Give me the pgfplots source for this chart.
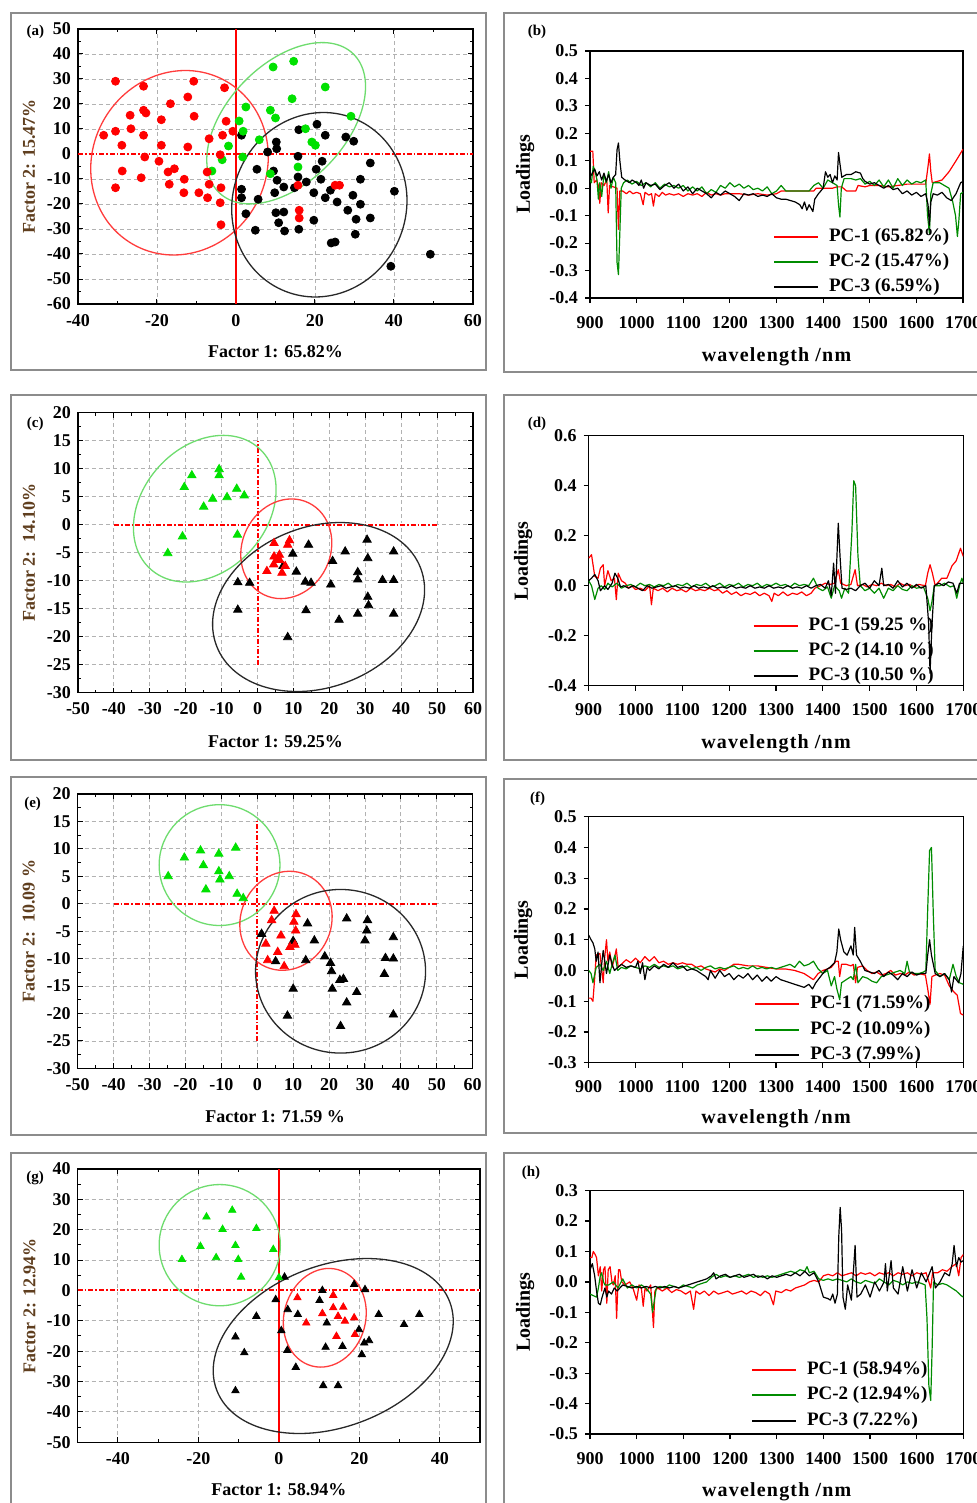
\documentclass[border=0pt]{standalone}
\usepackage{fontspec}
\setmainfont{Liberation Serif}
\newfontfamily\wavefont[LetterSpace=6.0]{Liberation Serif}
\usepackage{pgfplots}
\pgfplotsset{compat=1.18}
\definecolor{framegray}{gray}{0.55}
\definecolor{labbrown}{RGB}{95,62,30}
\definecolor{sgreen}{RGB}{0,225,0}
\definecolor{egreen}{RGB}{110,220,110}
\definecolor{ered}{RGB}{255,60,60}
\definecolor{eblack}{RGB}{40,40,40}
\definecolor{lgreen}{RGB}{0,140,0}
\newcommand{\tf}{\fontsize{9}{10}\selectfont\bfseries}
\newcommand{\lf}{\fontsize{9}{10}\selectfont\bfseries}
\pgfplotsset{
 scat/.style={scale only axis, anchor=south west,
   axis line style={line width=0.7pt},
   tick align=inside, major tick length=2.5pt, minor tick length=1.5pt,
   minor tick num=1, tick style={line width=0.5pt, black},
   grid=major, major grid style={gray!60, line width=0.45pt, dash pattern=on 2pt off 1.5pt},
   ticklabel style={font=\tf},
   xticklabel style={yshift=-1.5pt},
   xlabel style={font=\lf},
   ylabel style={font=\lf, color=labbrown},
   clip=true},
 refl/.style={red, line width=1pt, dash pattern=on 2.5pt off 1pt on 0.8pt off 1pt},
 wht/.style={white, line width=1.4pt},
 load/.style={scale only axis, anchor=south west,
   xmin=900, xmax=1700, xtick={900,1000,...,1700},
   xticklabels={900,1000,1100,1200,1300,1400,1500,1600,1700},
   axis line style={line width=0.7pt},
   tick align=outside, tick pos=left, major tick length=2.5pt,
   tick style={line width=0.6pt, black},
   ticklabel style={font=\tf},
   xticklabel style={yshift=-3pt},
   xlabel={\wavefont\fontsize{10}{11}\selectfont\bfseries wavelength /nm},
   ylabel={\fontsize{10}{11}\selectfont\bfseries Loadings},
   legend image code/.code={\draw[##1, line width=1pt] (0pt,0pt) -- (22pt,0pt);},
   legend style={draw=none, fill=none, inner sep=0pt, outer sep=0pt, anchor=west,
     font=\fontsize{9.5}{10}\selectfont\bfseries, row sep=2.2pt,
     nodes={inner sep=0.5pt, text height=7pt, text depth=2.5pt},
     /tikz/every odd column/.append style={column sep=4.5pt}},
   legend cell align=left,
   every axis plot/.append style={line width=0.6pt, line join=round}},
 sm/.style={only marks, mark=*, mark size=2pt},
 tm/.style={only marks, mark=triangle*, mark size=2.4pt},
}
\begin{document}
\begin{tikzpicture}
\path[use as bounding box, clip] (0pt,0pt) rectangle (488.5pt,-751.5pt);
\fill[white] (0pt,0pt) rectangle (488.5pt,-751.5pt);
% frames
\draw[framegray, line width=1.3pt] (5.5pt,-6.5pt) rectangle (243pt,-185pt);
\draw[framegray, line width=1.3pt] (252pt,-6.5pt) rectangle (500pt,-186pt);
\draw[framegray, line width=1.3pt] (5.5pt,-197.5pt) rectangle (243pt,-380pt);
\draw[framegray, line width=1.3pt] (252pt,-197.5pt) rectangle (500pt,-380pt);
\draw[framegray, line width=1.3pt] (5.5pt,-388.5pt) rectangle (243pt,-567.5pt);
\draw[framegray, line width=1.3pt] (252pt,-389.5pt) rectangle (500pt,-566.5pt);
\draw[framegray, line width=1.3pt] (5.5pt,-576.5pt) rectangle (243pt,-770pt);
\draw[framegray, line width=1.3pt] (252pt,-576.5pt) rectangle (500pt,-770pt);
% panel labels
\node[font=\fontsize{7.5}{8}\selectfont\bfseries] at (17.65pt,-16pt) {(a)};
\node[font=\fontsize{7.5}{8}\selectfont\bfseries] at (268.5pt,-15.8pt) {(b)};
\node[font=\fontsize{7.5}{8}\selectfont\bfseries] at (17.65pt,-211.7pt) {(c)};
\node[font=\fontsize{7.5}{8}\selectfont\bfseries] at (268.5pt,-211.7pt) {(d)};
\node[font=\fontsize{7.5}{8}\selectfont\bfseries] at (16.3pt,-402pt) {(e)};
\node[font=\fontsize{7.5}{8}\selectfont\bfseries] at (268.8pt,-399.2pt) {(f)};
\node[font=\fontsize{7.5}{8}\selectfont\bfseries] at (17.6pt,-589.2pt) {(g)};
\node[font=\fontsize{7.5}{8}\selectfont\bfseries] at (265.5pt,-586.3pt) {(h)};

% ---------------- (a)
\begin{axis}[scat, at={(39pt,-152pt)}, width=197.5pt, height=137.5pt,
 xmin=-40, xmax=60, ymin=-60, ymax=50,
 xtick={-40,-20,0,20,40,60}, xticklabels={-40,-20,0,20,40,60},
 ytick={-60,-50,...,50}, yticklabels={-60,-50,-40,-30,-20,-10,0,10,20,30,40,50},
 xlabel={Factor 1: 65.82\%}, ylabel={Factor 2: 15.47\%},
 xlabel style={at={(axis description cs:0.5,-0.1745)},anchor=center},
 ylabel style={at={(axis description cs:-0.124,0.5)},anchor=center}]
\addplot[wht] coordinates {(-40,0) (60,0)};
\addplot[refl] coordinates {(-40,0) (60,0)};
\addplot[red, line width=0.8pt] coordinates {(0,-60) (0,50)};
\addplot[sm, black] coordinates {(1.4,7.5) (15.9,9.7) (20.5,11.9) (22.6,7.5) (27.8,6.8) (29.8,5.1) (10.2,4.8) (10.3,2.1) (8.0,0.8) (15.7,-0.9) (21.8,-2.9) (34.0,-3.6) (5.3,-6.1) (9.5,-6.8) (20.3,-6.1) (15.7,-9.2) (10.4,-10.5) (12.1,-13.2) (14.8,-13.5) (17.8,-11.2) (21.5,-10.1) (31.5,-10.1) (1.4,-14.1) (1.4,-17.5) (9.8,-15.5) (19.7,-15.5) (23.9,-14.5) (22.6,-17.5) (25.6,-19.2) (29.6,-16.5) (31.5,-20.1) (40.1,-14.9) (5.6,-18.1) (2.5,-23.9) (10.1,-23.5) (12.1,-23.2) (10.8,-27.5) (19.7,-26.5) (28.3,-22.5) (30.4,-26.1) (34.0,-25.6) (4.9,-30.5) (12.3,-30.8) (15.9,-30.1) (30.2,-32.1) (24.1,-35.6) (25.1,-35.2) (49.2,-40.1) (39.2,-44.9)};
\addplot[sm, sgreen] coordinates {(9.4,34.8) (14.6,37.1) (22.6,26.8) (14.2,22.1) (2.5,18.8) (8.7,17.5) (10.0,14.4) (0.8,13.2) (1.8,9.1) (17.6,10.1) (5.9,5.7) (-1.9,3.2) (19.2,4.8) (20.1,3.5) (-3.5,-2.3) (1.7,-1.2) (-6.1,-6.8) (15.7,-5.2) (29.1,15.1) (8.7,-7.9)};
\addplot[sm, red] coordinates {(-30.5,29.1) (-23.4,27.1) (-10.7,29.1) (-2.9,26.5) (-12.2,22.8) (-16.6,20.1) (-26.8,15.5) (-23.4,17.5) (-22.8,16.4) (-10.6,15.1) (-18.9,13.7) (-33.5,7.5) (-30.5,9.1) (-26.6,10.1) (-23.4,7.5) (-28.9,3.5) (-18.9,3.5) (-12.2,2.8) (-2.5,13.1) (-0.8,9.1) (-3.4,7.5) (-6.8,6.1) (-23.1,-1.2) (-19.5,-2.9) (-4.0,-0.3) (-28.8,-6.8) (-30.5,-13.5) (-24.0,-9.5) (-17.2,-7.2) (-15.6,-5.9) (-16.9,-12.1) (-13.1,-10.1) (-7.3,-7.2) (-6.8,-12.1) (-13.2,-15.5) (-9.4,-15.5) (-7.2,-17.5) (-4.0,-19.5) (-3.8,-28.3) (15.7,-12.5) (16.0,-22.5) (16.0,-25.6) (25.1,-12.5) (26.2,-12.5) (-3.8,-13.5)};
\draw[ered, line width=0.65pt, rotate around={60:(axis cs:-14.3,-3.5)}] (axis cs:-14.3,-3.5) ellipse [x radius=46.95pt, y radius=43.5pt];
\draw[egreen, line width=0.65pt, rotate around={46:(axis cs:12.7,12.3)}] (axis cs:12.7,12.3) ellipse [x radius=48.25pt, y radius=29.55pt];
\draw[eblack, line width=0.65pt, rotate around={68.8:(axis cs:21.1,-20.3)}] (axis cs:21.1,-20.3) ellipse [x radius=46.5pt, y radius=43.4pt];
\end{axis}

% ---------------- (c)
\begin{axis}[scat, at={(39pt,-346.35pt)}, width=197.5pt, height=140pt,
 xmin=-50, xmax=60, ymin=-30, ymax=20,
 xtick={-50,-40,...,60}, xticklabels={-50,-40,-30,-20,-10,0,10,20,30,40,50,60},
 ytick={-30,-25,...,20}, yticklabels={-30,-25,-20,-15,-10,-5,0,5,10,15,20},
 xlabel={Factor 1: 59.25\%}, ylabel={Factor 2:\ \ 14.10\%},
 xlabel style={at={(axis description cs:0.5,-0.175)},anchor=center},
 ylabel style={at={(axis description cs:-0.124,0.5)},anchor=center}]
\addplot[wht] coordinates {(-40,0) (50,0)};
\addplot[wht] coordinates {(0,-25) (0,15)};
\addplot[refl] coordinates {(-40,0) (50,0)};
\addplot[refl] coordinates {(0,-25) (0,15)};
\addplot[tm, black] coordinates {(7.1,-7.4) (9.8,-5.2) (14.2,-3.6) (10.8,-8.4) (13.3,-10.2) (14.9,-10.4) (-5.5,-10.3) (-2.2,-10.4) (-5.5,-15.2) (13.5,-15.3) (8.4,-20.1) (20.9,-6.5) (20.4,-10.7) (24.4,-4.8) (30.5,-2.7) (30.7,-6.0) (27.9,-8.5) (27.9,-9.8) (34.8,-9.9) (37.9,-4.8) (37.9,-9.9) (30.7,-12.9) (30.9,-14.4) (27.9,-15.9) (22.7,-17.0) (37.9,-15.9)};
\addplot[tm, sgreen] coordinates {(-10.7,9.9) (-10.7,8.8) (-18.3,8.8) (-20.4,6.7) (-5.8,6.4) (-3.7,5.2) (-8.5,4.9) (-12.5,4.6) (-15.0,3.2) (-20.9,-2.1) (-5.6,-1.8) (-25.0,-5.1)};
\addplot[tm, red] coordinates {(4.6,-3.3) (8.9,-2.8) (8.4,-3.6) (6.1,-5.4) (4.6,-5.7) (5.6,-6.1) (4.5,-7.1) (7.7,-7.4) (2.6,-8.3) (6.8,-8.6) (6.1,-6.3)};
\draw[egreen, line width=0.65pt, rotate around={48:(axis cs:-14.7,2.86)}] (axis cs:-14.7,2.86) ellipse [x radius=40.6pt, y radius=31.1pt];
\draw[ered, line width=0.65pt, rotate around={64:(axis cs:8.0,-4.3)}] (axis cs:8.0,-4.3) ellipse [x radius=25.55pt, y radius=22.05pt];
\draw[eblack, line width=0.65pt, rotate around={20.8:(axis cs:17.0,-14.7)}] (axis cs:17.0,-14.7) ellipse [x radius=54.6pt, y radius=40.15pt];
\end{axis}

% ---------------- (e)
\begin{axis}[scat, at={(38.85pt,-534.2pt)}, width=197.5pt, height=137.2pt,
 xmin=-50, xmax=60, ymin=-30, ymax=20,
 xtick={-50,-40,...,60}, xticklabels={-50,-40,-30,-20,-10,0,10,20,30,40,50,60},
 ytick={-30,-25,...,20}, yticklabels={-30,-25,-20,-15,-10,-5,0,5,10,15,20},
 xlabel={Factor 1: 71.59 \%}, ylabel={Factor 2:\ \ 10.09 \%},
 xlabel style={at={(axis description cs:0.5,-0.174)},anchor=center},
 ylabel style={at={(axis description cs:-0.124,0.5)},anchor=center}]
\addplot[wht] coordinates {(-40,0) (50,0)};
\addplot[wht] coordinates {(0,-25) (0,15)};
\addplot[refl] coordinates {(-40,0) (50,0)};
\addplot[refl] coordinates {(0,-25) (0,15)};
\addplot[tm, black] coordinates {(1.2,-5.5) (14.0,-3.6) (10.0,-6.8) (15.9,-6.7) (5.1,-10.5) (13.5,-10.3) (18.8,-9.6) (20.4,-10.8) (20.7,-12.3) (23.0,-13.9) (24.0,-13.7) (20.9,-15.5) (10.0,-15.5) (27.7,-16.1) (24.9,-18.0) (8.4,-20.4) (23.2,-22.3) (24.9,-2.7) (30.7,-3.0) (30.5,-4.9) (30.0,-6.7) (37.9,-6.1) (35.7,-9.9) (37.9,-10.0) (35.4,-12.8) (37.9,-20.2)};
\addplot[tm, sgreen] coordinates {(-6.0,10.2) (-15.8,9.7) (-10.7,9.1) (-20.3,8.4) (-15.0,7.0) (-10.7,5.9) (-10.4,4.4) (-7.8,5.0) (-24.8,5.0) (-14.3,2.6) (-5.6,1.8) (-3.9,1.0)};
\addplot[tm, red] coordinates {(4.7,-1.3) (10.8,-1.9) (4.0,-3.0) (10.2,-3.3) (10.7,-4.9) (6.6,-5.8) (2.4,-7.3) (10.5,-7.5) (9.1,-7.9) (5.7,-8.8) (2.9,-10.3) (7.5,-11.4)};
\draw[egreen, line width=0.65pt] (axis cs:-10.5,7.05) ellipse [x radius=30.2pt, y radius=30.2pt];
\draw[ered, line width=0.65pt, rotate around={66:(axis cs:8.0,-3.1)}] (axis cs:8.0,-3.1) ellipse [x radius=25.15pt, y radius=22.65pt];
\draw[eblack, line width=0.65pt] (axis cs:23.2,-12.3) ellipse [x radius=42.5pt, y radius=40.9pt];
\end{axis}

% ---------------- (g)
\begin{axis}[scat, at={(38.85pt,-721.15pt)}, width=201.2pt, height=136.7pt,
 xmin=-50, xmax=50, ymin=-50, ymax=40,
 xtick={-40,-20,0,20,40}, xticklabels={-40,-20,0,20,40},
 ytick={-50,-40,...,40}, yticklabels={-50,-40,-30,-20,-10,0,10,20,30,40},
 tm/.style={only marks, mark=triangle*, mark size=2.1pt},
 xlabel={Factor 1: 58.94\%}, ylabel={Factor 2: 12.94\%},
 xlabel style={at={(axis description cs:0.5,-0.172)},anchor=center},
 ylabel style={at={(axis description cs:-0.120,0.5)},anchor=center}]
\addplot[wht] coordinates {(-50,0) (50,0)};
\addplot[refl] coordinates {(-50,0) (50,0)};
\addplot[red, line width=0.8pt] coordinates {(0,-50) (0,40)};
\addplot[tm, black] coordinates {(1.4,4.4) (10.8,0) (10.1,-3.3) (18.7,2.0) (21.4,0.3) (-0.8,-3.0) (2.2,-6.3) (4.7,-7.9) (11.9,-10.7) (-5.6,-8.5) (24.8,-7.9) (34.9,-7.9) (31.1,-11.2) (0.6,-13.2) (-10.8,-15.3) (19.9,-12.9) (21.2,-17.3) (22.4,-16.5) (20.6,-21.1) (-8.6,-20.5) (2.1,-19.7) (11.6,-18.7) (15.8,-18.4) (4.2,-25.3) (-10.8,-33.0) (11.0,-31.3) (14.7,-31.3)};
\addplot[tm, sgreen] coordinates {(-11.6,26.4) (-18.0,24.2) (-14.0,20.1) (-5.6,20.4) (-19.5,14.5) (-10.8,14.8) (-1.4,13.5) (-24.1,10.2) (-15.6,10.8) (-10.1,10.2) (-9.4,4.4) (0,4.2)};
\addplot[tm, red] coordinates {(4.6,-2.4) (13.5,-1.6) (13.5,-5.7) (16.0,-5.5) (10.8,-7.6) (14.7,-8.5) (16.4,-10.1) (18.7,-9.0) (6.8,-10.7) (14.3,-15.1) (18.9,-14.5)};
\draw[egreen, line width=0.65pt] (axis cs:-14.7,14.9) ellipse [x radius=30.3pt, y radius=30.3pt];
\draw[ered, line width=0.65pt, rotate around={74.9:(axis cs:11.4,-9.0)}] (axis cs:11.4,-9.0) ellipse [x radius=24.95pt, y radius=20.4pt];
\draw[eblack, line width=0.65pt, rotate around={20.7:(axis cs:13.5,-18.3)}] (axis cs:13.5,-18.3) ellipse [x radius=62.3pt, y radius=40.4pt];
\end{axis}

% ---------------- (b)
\begin{axis}[load, at={(295pt,-149pt)}, width=186.5pt, height=123.5pt,
 ymin=-0.4, ymax=0.5, ytick={-0.4,-0.3,...,0.5},
 yticklabels={-0.4,-0.3,-0.2,-0.1,0.0,0.1,0.2,0.3,0.4,0.5},
 xlabel style={at={(axis description cs:0.5,-0.239)},anchor=center},
 ylabel style={at={(axis description cs:-0.174,0.5)},anchor=center},
 legend style={at={(0.4906,0.146)}}]
\addplot[red] coordinates {(900,0.135) (906,0.135) (909,0.02) (914,0.03) (918,0.01) (921,-0.055) (924,0.02) (930,0.01) (936,0.03) (939,-0.09) (942,0.01) (950,0.005) (958,0.0) (961,-0.15) (964,-0.01) (970,-0.01) (978,-0.02) (985,-0.01) (992,-0.02) (1000,-0.015) (1008,-0.02) (1014,-0.06) (1018,-0.015) (1026,-0.025) (1032,-0.02) (1036,-0.065) (1040,-0.02) (1048,-0.03) (1055,-0.015) (1062,-0.025) (1070,-0.02) (1080,-0.025) (1090,-0.02) (1100,-0.03) (1110,-0.02) (1120,-0.025) (1130,-0.02) (1140,-0.03) (1150,-0.015) (1160,-0.025) (1170,-0.02) (1180,-0.025) (1190,-0.02) (1200,-0.02) (1220,-0.02) (1240,-0.025) (1260,-0.02) (1280,-0.025) (1300,-0.02) (1310,-0.01) (1330,-0.01) (1360,-0.01) (1380,-0.01) (1385,0.0) (1400,0.0) (1420,0.0) (1430,0.005) (1440,0.005) (1450,-0.01) (1470,-0.01) (1475,0.01) (1490,0.005) (1500,0.01) (1520,0.01) (1540,0.005) (1560,0.01) (1580,0.015) (1600,0.015) (1620,0.015) (1625,0.08) (1628,0.125) (1631,0.06) (1634,0.02) (1645,0.025) (1655,0.03) (1670,0.06) (1685,0.1) (1700,0.142)};
\addlegendentry{PC-1 (65.82\%)}
\addplot[lgreen] coordinates {(900,0.03) (903,0.02) (907,0.08) (911,0.06) (915,0.03) (918,-0.04) (921,0.02) (925,-0.03) (930,0.05) (935,0.02) (940,0.06) (945,0.0) (950,0.04) (955,0.02) (958,-0.27) (961,-0.315) (964,-0.16) (967,0.0) (972,0.02) (980,0.03) (990,0.015) (1000,0.025) (1010,0.01) (1020,0.02) (1030,0.005) (1040,0.02) (1050,0.0) (1060,0.015) (1070,0.005) (1080,0.01) (1090,0.0) (1100,0.01) (1110,-0.01) (1120,0.005) (1130,-0.01) (1140,0.005) (1150,-0.02) (1160,-0.005) (1170,-0.015) (1180,0.01) (1190,0.0) (1200,0.02) (1210,0.005) (1220,0.015) (1230,0.0) (1240,0.01) (1250,-0.005) (1260,0.0) (1270,-0.01) (1280,0.005) (1290,-0.02) (1300,-0.01) (1310,0.01) (1320,-0.01) (1340,-0.01) (1360,-0.01) (1370,-0.01) (1380,0.01) (1390,0.02) (1400,0.0) (1410,0.03) (1420,0.02) (1430,0.01) (1433,-0.06) (1436,-0.105) (1439,0.0) (1445,0.035) (1460,0.035) (1470,0.03) (1480,0.035) (1490,0.015) (1500,0.025) (1510,0.01) (1520,0.03) (1530,0.005) (1540,0.03) (1550,0.0) (1560,0.035) (1570,0.01) (1580,0.03) (1590,0.015) (1600,0.025) (1610,0.02) (1620,0.03) (1624,-0.1) (1628,-0.165) (1631,-0.02) (1636,0.02) (1650,0.02) (1660,0.01) (1670,0.0) (1678,-0.05) (1684,-0.1) (1688,-0.176) (1691,-0.12) (1695,-0.02) (1700,-0.015)};
\addlegendentry{PC-2 (15.47\%)}
\addplot[black] coordinates {(900,0.04) (905,0.055) (910,0.07) (915,0.045) (920,0.06) (925,0.03) (930,0.055) (935,0.025) (940,0.05) (945,0.02) (950,0.04) (955,0.05) (958,0.14) (961,0.165) (964,0.1) (968,0.04) (975,0.03) (985,0.02) (990,0.03) (1000,0.02) (1005,0.01) (1010,0.03) (1015,0.0) (1020,0.02) (1030,0.01) (1040,0.015) (1050,-0.005) (1060,0.01) (1070,0.02) (1080,0.0) (1090,0.015) (1100,-0.01) (1110,0.005) (1120,-0.02) (1130,0.0) (1140,-0.01) (1150,-0.02) (1160,-0.035) (1170,-0.015) (1180,-0.025) (1190,-0.01) (1200,-0.02) (1210,-0.03) (1220,-0.045) (1230,-0.02) (1240,-0.025) (1250,-0.02) (1260,-0.03) (1270,-0.025) (1280,-0.03) (1290,-0.02) (1300,-0.035) (1310,-0.04) (1320,-0.04) (1330,-0.045) (1340,-0.05) (1350,-0.06) (1355,-0.075) (1360,-0.05) (1365,-0.08) (1370,-0.06) (1378,-0.085) (1382,-0.04) (1390,-0.02) (1400,0.0) (1405,0.06) (1410,0.04) (1415,0.05) (1420,0.02) (1425,0.045) (1430,0.03) (1433,0.13) (1436,0.09) (1440,0.04) (1450,0.05) (1460,0.05) (1470,0.06) (1480,0.055) (1485,0.035) (1490,0.025) (1500,0.015) (1510,0.02) (1520,0.01) (1530,0.0) (1540,0.01) (1550,-0.005) (1560,0.0) (1570,-0.02) (1580,-0.01) (1590,-0.025) (1600,-0.015) (1610,-0.03) (1620,-0.02) (1625,-0.06) (1628,-0.135) (1631,-0.05) (1636,-0.02) (1645,-0.025) (1655,-0.015) (1665,-0.035) (1675,-0.045) (1685,-0.02) (1695,0.02) (1700,0.025)};
\addlegendentry{PC-3 (6.59\%)}
\end{axis}

% ---------------- (d)
\begin{axis}[load, at={(294.35pt,-342.85pt)}, width=187.3pt, height=125pt,
 ymin=-0.4, ymax=0.6, ytick={-0.4,-0.2,...,0.6},
 yticklabels={-0.4,-0.2,0.0,0.2,0.4,0.6},
 xlabel style={at={(axis description cs:0.5,-0.233)},anchor=center},
 ylabel style={at={(axis description cs:-0.175,0.5)},anchor=center},
 legend style={at={(0.4378,0.139)}}]
\addplot[red] coordinates {(900,0.11) (906,0.124) (913,0.037) (920,0.03) (925,0.07) (931,0.084) (934,0.0) (941,0.06) (948,0.02) (955,0.03) (959,-0.056) (963,0.05) (970,0.02) (978,0.01) (985,-0.01) (992,0.0) (1000,-0.015) (1010,-0.01) (1020,-0.02) (1030,0.0) (1034,-0.076) (1038,-0.01) (1048,-0.02) (1058,-0.01) (1068,-0.025) (1078,-0.01) (1088,-0.02) (1098,-0.015) (1108,-0.025) (1118,-0.01) (1128,-0.02) (1138,-0.015) (1148,-0.02) (1158,-0.01) (1168,-0.02) (1177,-0.015) (1186,-0.03) (1195,-0.02) (1205,-0.035) (1215,-0.025) (1225,-0.04) (1235,-0.03) (1245,-0.035) (1255,-0.025) (1265,-0.04) (1275,-0.03) (1285,-0.04) (1291,-0.063) (1296,-0.03) (1305,-0.04) (1315,-0.025) (1325,-0.04) (1335,-0.03) (1345,-0.035) (1355,-0.025) (1365,-0.04) (1375,-0.03) (1383,-0.01) (1395,0.0) (1405,0.01) (1415,0.005) (1425,0.01) (1433,0.064) (1438,0.01) (1450,0.0) (1460,0.005) (1469,0.064) (1474,0.0) (1485,0.005) (1495,-0.005) (1505,0.005) (1515,0.0) (1525,0.01) (1535,0.0) (1545,0.005) (1555,-0.005) (1565,0.01) (1575,0.0) (1585,0.005) (1595,-0.005) (1605,0.005) (1619,0.0) (1624,0.05) (1629,0.084) (1634,0.05) (1640,0.0) (1654,0.03) (1665,0.03) (1676,0.08) (1685,0.1) (1694,0.15) (1700,0.117)};
\addlegendentry{PC-1 (59.25 \%)}
\addplot[lgreen] coordinates {(900,0.02) (906,0.0) (913,-0.055) (920,-0.01) (927,0.0) (934,-0.015) (941,0.01) (950,-0.005) (960,0.01) (970,-0.01) (980,0.0) (990,0.005) (1000,-0.005) (1010,0.01) (1020,0.0) (1030,0.005) (1040,-0.005) (1050,0.005) (1060,0.0) (1070,0.01) (1080,-0.005) (1090,0.005) (1100,0.0) (1110,0.01) (1120,-0.005) (1130,0.005) (1140,0.0) (1150,0.01) (1160,-0.005) (1170,0.0) (1180,0.01) (1190,-0.005) (1200,0.005) (1210,0.0) (1220,0.01) (1230,-0.005) (1240,0.005) (1250,0.0) (1260,0.01) (1270,-0.005) (1280,0.005) (1290,0.0) (1300,0.01) (1310,0.0) (1320,0.005) (1330,-0.005) (1340,0.01) (1350,0.0) (1360,0.005) (1370,0.0) (1380,0.03) (1390,-0.01) (1400,-0.02) (1410,-0.005) (1418,-0.05) (1425,0.0) (1435,-0.02) (1440,-0.05) (1447,-0.01) (1455,-0.03) (1462,0.21) (1466,0.42) (1470,0.40) (1475,0.12) (1480,0.0) (1490,-0.02) (1500,-0.01) (1510,-0.03) (1520,-0.01) (1530,-0.05) (1540,-0.01) (1550,-0.02) (1560,0.0) (1570,-0.015) (1580,-0.02) (1590,0.0) (1600,-0.01) (1615,-0.005) (1624,-0.05) (1629,-0.10) (1633,-0.065) (1638,0.0) (1650,0.0) (1660,0.01) (1672,-0.005) (1680,0.0) (1686,-0.05) (1692,0.0) (1697,0.03) (1700,0.01)};
\addlegendentry{PC-2 (14.10 \%)}
\addplot[black] coordinates {(900,0.02) (906,0.03) (913,0.045) (920,0.02) (925,-0.02) (934,0.0) (941,-0.015) (950,0.01) (956,0.05) (962,0.03) (968,-0.005) (975,0.0) (985,-0.01) (995,0.0) (1005,-0.01) (1015,-0.02) (1025,0.0) (1035,-0.01) (1045,-0.005) (1055,0.0) (1065,-0.01) (1075,-0.005) (1085,0.0) (1095,-0.01) (1105,-0.005) (1115,-0.01) (1125,0.0) (1135,-0.01) (1145,-0.005) (1155,-0.01) (1165,0.0) (1175,-0.01) (1185,-0.005) (1195,-0.01) (1205,0.0) (1215,-0.01) (1225,-0.005) (1235,-0.01) (1245,0.0) (1255,-0.01) (1265,-0.005) (1275,-0.01) (1285,0.0) (1295,-0.01) (1305,-0.005) (1315,-0.01) (1325,0.0) (1335,-0.01) (1345,-0.005) (1355,-0.01) (1365,0.0) (1375,-0.01) (1385,0.0) (1395,0.005) (1405,-0.01) (1412,0.02) (1418,-0.04) (1423,0.09) (1427,-0.03) (1433,0.25) (1437,0.11) (1441,-0.01) (1450,-0.015) (1460,-0.01) (1470,-0.02) (1480,0.0) (1490,0.01) (1500,-0.01) (1510,0.02) (1520,0.0) (1526,0.07) (1530,0.0) (1540,0.005) (1550,-0.01) (1560,0.02) (1570,-0.005) (1580,0.01) (1590,-0.01) (1600,0.005) (1610,-0.01) (1620,0.0) (1626,-0.15) (1629,-0.35) (1633,-0.16) (1638,0.0) (1648,0.01) (1658,0.0) (1668,0.015) (1678,0.01) (1686,-0.03) (1692,0.01) (1700,0.01)};
\addlegendentry{PC-3 (10.50 \%)}
\end{axis}

% ---------------- (f)
\begin{axis}[load, at={(294.35pt,-531.35pt)}, width=187.3pt, height=123pt,
 ymin=-0.3, ymax=0.5, ytick={-0.3,-0.2,...,0.5},
 yticklabels={-0.3,-0.2,-0.1,0.0,0.1,0.2,0.3,0.4,0.5},
 xlabel style={at={(axis description cs:0.5,-0.226)},anchor=center},
 ylabel style={at={(axis description cs:-0.175,0.5)},anchor=center},
 legend style={at={(0.442,0.1337)}}]
\addplot[red] coordinates {(900,-0.09) (905,-0.09) (909,-0.10) (913,-0.02) (916,0.05) (924,0.055) (931,-0.04) (934,0.04) (938,0.10) (941,0.03) (945,0.06) (950,0.01) (955,0.04) (959,0.07) (963,0.01) (970,0.02) (980,0.035) (990,0.025) (1000,0.04) (1010,0.025) (1020,0.045) (1030,0.03) (1040,0.045) (1050,0.025) (1060,0.03) (1070,0.02) (1080,0.025) (1090,0.02) (1100,0.025) (1110,0.02) (1120,0.02) (1130,0.01) (1140,0.015) (1150,0.005) (1160,0.0) (1170,-0.005) (1180,0.005) (1190,0.0) (1200,0.01) (1210,0.02) (1220,0.02) (1240,0.015) (1260,0.015) (1280,0.01) (1300,0.005) (1320,0.005) (1340,0.0) (1350,-0.005) (1360,-0.01) (1370,-0.02) (1380,-0.03) (1390,-0.01) (1400,0.0) (1410,0.005) (1418,0.01) (1428,0.03) (1433,0.03) (1436,-0.02) (1440,0.02) (1450,0.02) (1460,0.015) (1465,0.02) (1470,-0.04) (1474,0.01) (1485,0.015) (1495,0.0) (1505,-0.01) (1515,-0.005) (1525,-0.015) (1535,-0.01) (1545,0.0) (1555,-0.015) (1565,-0.01) (1575,-0.015) (1585,-0.005) (1595,-0.015) (1605,-0.01) (1619,-0.015) (1624,-0.06) (1629,-0.11) (1633,-0.02) (1640,-0.015) (1650,-0.01) (1660,-0.015) (1670,-0.05) (1680,-0.07) (1687,-0.08) (1694,-0.14) (1700,-0.145)};
\addlegendentry{PC-1 (71.59\%)}
\addplot[lgreen] coordinates {(900,0.0) (905,-0.01) (909,-0.04) (916,0.01) (924,0.02) (931,0.0) (938,0.03) (945,-0.01) (950,0.02) (956,0.05) (962,0.0) (970,0.01) (980,0.005) (990,0.015) (1000,0.01) (1010,0.005) (1020,0.015) (1030,0.01) (1040,0.02) (1050,0.01) (1060,0.015) (1070,0.01) (1080,0.015) (1090,0.005) (1100,0.01) (1110,0.015) (1120,0.005) (1130,0.01) (1140,0.0) (1150,0.01) (1160,0.015) (1170,0.005) (1180,0.01) (1190,0.005) (1200,0.01) (1210,0.015) (1220,0.005) (1230,0.01) (1240,0.005) (1250,0.015) (1260,0.005) (1270,0.01) (1280,0.005) (1290,0.01) (1300,0.005) (1310,0.01) (1320,0.015) (1330,0.02) (1340,0.01) (1350,0.03) (1360,0.015) (1370,0.02) (1380,0.03) (1390,0.005) (1400,-0.01) (1410,0.0) (1418,-0.05) (1425,-0.02) (1430,-0.06) (1436,-0.095) (1440,-0.04) (1450,-0.03) (1460,-0.02) (1465,-0.03) (1470,0.02) (1475,-0.04) (1485,-0.02) (1495,-0.025) (1505,-0.035) (1515,-0.04) (1525,-0.02) (1535,-0.015) (1545,-0.01) (1555,-0.005) (1565,0.0) (1575,-0.01) (1580,0.03) (1585,-0.005) (1595,-0.01) (1605,-0.01) (1615,-0.005) (1620,0.0) (1624,0.2) (1628,0.39) (1632,0.40) (1636,0.18) (1640,0.0) (1650,-0.02) (1660,-0.01) (1670,-0.03) (1678,0.02) (1685,-0.02) (1692,-0.04) (1700,-0.045)};
\addlegendentry{PC-2 (10.09\%)}
\addplot[black] coordinates {(900,0.115) (905,0.1) (909,0.09) (913,0.07) (916,0.03) (920,0.06) (924,-0.04) (929,0.04) (931,0.065) (938,-0.01) (945,0.05) (950,0.02) (955,0.0) (962,0.01) (970,0.02) (980,0.01) (990,0.015) (1000,0.01) (1005,0.03) (1010,-0.01) (1015,0.025) (1020,-0.03) (1025,0.01) (1030,0.0) (1040,0.015) (1050,0.005) (1060,0.02) (1070,0.01) (1080,0.025) (1090,0.01) (1100,0.015) (1110,0.0) (1120,0.005) (1130,0.0) (1140,-0.01) (1150,-0.02) (1155,-0.03) (1160,0.0) (1170,-0.025) (1180,0.0) (1190,-0.02) (1200,-0.01) (1210,-0.03) (1220,-0.015) (1230,-0.025) (1240,-0.01) (1250,-0.03) (1260,-0.015) (1270,-0.035) (1280,-0.02) (1290,-0.035) (1300,-0.02) (1310,-0.03) (1320,-0.035) (1330,-0.04) (1340,-0.045) (1350,-0.05) (1360,-0.055) (1370,-0.045) (1378,-0.06) (1385,-0.04) (1395,-0.02) (1405,0.0) (1415,0.01) (1425,0.025) (1430,0.06) (1434,0.135) (1438,0.1) (1445,0.06) (1452,0.05) (1460,0.08) (1465,0.05) (1468,0.14) (1472,0.05) (1480,0.03) (1490,0.0) (1500,-0.005) (1510,-0.01) (1520,0.0) (1530,-0.02) (1540,-0.005) (1550,-0.015) (1560,-0.03) (1570,-0.01) (1580,-0.02) (1590,-0.005) (1600,-0.015) (1610,-0.01) (1620,-0.01) (1624,0.05) (1628,0.1) (1632,0.05) (1640,-0.01) (1650,-0.02) (1660,-0.01) (1670,-0.03) (1675,-0.07) (1680,-0.02) (1690,-0.04) (1695,-0.01) (1700,0.08)};
\addlegendentry{PC-3 (7.99\%)}
\end{axis}

% ---------------- (h)
\begin{axis}[load, at={(295pt,-717pt)}, width=186.7pt, height=121.7pt,
 ymin=-0.5, ymax=0.3, ytick={-0.5,-0.4,...,0.3},
 yticklabels={-0.5,-0.4,-0.3,-0.2,-0.1,0.0,0.1,0.2,0.3},
 xlabel style={at={(axis description cs:0.5,-0.237)},anchor=center},
 ylabel style={at={(axis description cs:-0.174,0.5)},anchor=center},
 legend style={at={(0.4313,0.159)}}]
\addplot[red] coordinates {(900,0.08) (904,0.08) (907,0.10) (911,0.09) (914,0.08) (918,0.02) (922,0.05) (925,-0.03) (929,0.04) (932,0.05) (936,-0.07) (939,0.04) (943,0.05) (947,0.0) (950,-0.01) (954,0.02) (957,-0.12) (961,0.04) (964,0.04) (968,0.0) (975,-0.01) (985,0.0) (992,-0.02) (1000,-0.06) (1005,-0.01) (1010,-0.02) (1014,-0.08) (1018,-0.02) (1022,-0.03) (1030,-0.01) (1036,-0.15) (1039,-0.03) (1045,-0.02) (1055,-0.03) (1065,-0.02) (1075,-0.035) (1085,-0.025) (1095,-0.03) (1105,-0.04) (1115,-0.03) (1122,-0.09) (1127,-0.03) (1135,-0.04) (1145,-0.03) (1155,-0.045) (1165,-0.03) (1175,-0.04) (1185,-0.035) (1195,-0.03) (1205,-0.04) (1215,-0.035) (1225,-0.03) (1235,-0.04) (1245,-0.03) (1255,-0.035) (1265,-0.045) (1275,-0.03) (1285,-0.04) (1293,-0.075) (1298,-0.03) (1310,-0.035) (1320,-0.025) (1330,-0.03) (1340,-0.02) (1350,-0.015) (1360,-0.01) (1370,0.0) (1380,0.005) (1390,0.0) (1400,0.02) (1410,0.025) (1420,0.02) (1430,0.03) (1440,0.02) (1450,0.025) (1460,0.03) (1470,0.02) (1480,0.03) (1490,0.025) (1500,0.03) (1510,0.02) (1520,0.03) (1530,0.025) (1540,0.03) (1550,0.02) (1560,0.03) (1570,0.025) (1580,0.03) (1590,0.02) (1600,0.03) (1610,0.025) (1620,0.03) (1626,0.0) (1630,-0.02) (1634,0.03) (1645,0.03) (1655,0.04) (1665,0.035) (1675,0.05) (1685,0.06) (1690,0.02) (1695,0.08) (1700,0.09)};
\addlegendentry{PC-1 (58.94\%)}
\addplot[lgreen] coordinates {(900,-0.04) (907,-0.045) (914,-0.05) (918,-0.02) (922,0.02) (925,0.03) (929,0.0) (932,-0.01) (940,-0.01) (950,0.0) (960,-0.02) (970,0.01) (980,-0.02) (990,-0.01) (1000,-0.02) (1010,-0.01) (1020,-0.02) (1030,-0.04) (1034,-0.1) (1038,-0.06) (1042,-0.02) (1050,-0.015) (1060,-0.02) (1070,-0.01) (1080,-0.015) (1090,-0.02) (1100,-0.01) (1110,-0.015) (1120,-0.02) (1130,-0.01) (1140,-0.005) (1150,0.0) (1160,0.015) (1170,0.025) (1180,0.015) (1190,0.02) (1200,0.015) (1210,0.02) (1220,0.015) (1230,0.02) (1240,0.025) (1250,0.015) (1260,0.02) (1270,0.015) (1280,0.02) (1290,0.015) (1300,0.02) (1310,0.025) (1320,0.03) (1330,0.035) (1340,0.03) (1350,0.04) (1360,0.035) (1365,0.05) (1370,0.03) (1380,0.035) (1390,0.01) (1400,0.005) (1410,0.01) (1420,0.005) (1430,0.01) (1440,0.005) (1450,0.0) (1460,0.01) (1470,0.0) (1480,-0.005) (1490,0.005) (1500,0.0) (1510,-0.005) (1520,0.01) (1530,0.0) (1540,-0.01) (1550,0.005) (1560,0.0) (1570,-0.01) (1580,0.0) (1590,-0.005) (1600,0.0) (1610,-0.005) (1618,-0.01) (1622,-0.12) (1626,-0.34) (1630,-0.39) (1633,-0.22) (1636,0.0) (1645,-0.01) (1655,-0.005) (1665,-0.01) (1675,-0.02) (1685,-0.03) (1695,-0.045) (1700,-0.05)};
\addlegendentry{PC-2 (12.94\%)}
\addplot[black] coordinates {(900,0.04) (905,0.06) (910,0.02) (914,-0.03) (918,-0.07) (922,-0.075) (926,-0.05) (932,-0.02) (936,-0.05) (940,-0.03) (946,-0.04) (952,-0.02) (958,-0.03) (964,-0.02) (970,-0.01) (980,-0.015) (990,-0.02) (1000,-0.015) (1010,-0.02) (1020,-0.015) (1030,-0.02) (1040,-0.015) (1050,-0.02) (1060,-0.015) (1070,-0.02) (1080,-0.015) (1090,-0.02) (1100,-0.015) (1110,-0.01) (1120,-0.005) (1130,0.0) (1140,0.005) (1150,0.01) (1160,0.02) (1165,0.03) (1170,0.01) (1180,0.02) (1190,0.025) (1200,0.015) (1210,0.02) (1220,0.025) (1230,0.015) (1240,0.02) (1250,0.025) (1260,0.015) (1270,0.02) (1280,0.01) (1290,0.02) (1300,0.015) (1310,0.02) (1320,0.025) (1330,0.02) (1340,0.03) (1350,0.02) (1360,0.035) (1370,0.02) (1380,0.03) (1390,0.0) (1400,-0.05) (1410,-0.055) (1415,-0.06) (1420,-0.04) (1425,-0.07) (1430,-0.04) (1433,0.15) (1436,0.245) (1439,0.17) (1442,-0.05) (1447,-0.09) (1452,-0.01) (1460,-0.06) (1465,0.05) (1468,0.12) (1472,-0.05) (1480,-0.04) (1490,-0.01) (1500,-0.05) (1510,0.0) (1520,-0.03) (1530,0.0) (1533,0.06) (1537,-0.03) (1545,0.07) (1550,-0.02) (1560,-0.04) (1570,0.05) (1580,-0.03) (1590,0.04) (1600,-0.02) (1610,0.03) (1620,0.0) (1633,0.05) (1640,-0.02) (1650,0.0) (1660,0.03) (1670,0.02) (1676,0.06) (1680,0.12) (1685,0.05) (1690,0.08) (1695,0.065) (1700,0.07)};
\addlegendentry{PC-3 (7.22\%)}
\end{axis}
\end{tikzpicture}
\end{document}
